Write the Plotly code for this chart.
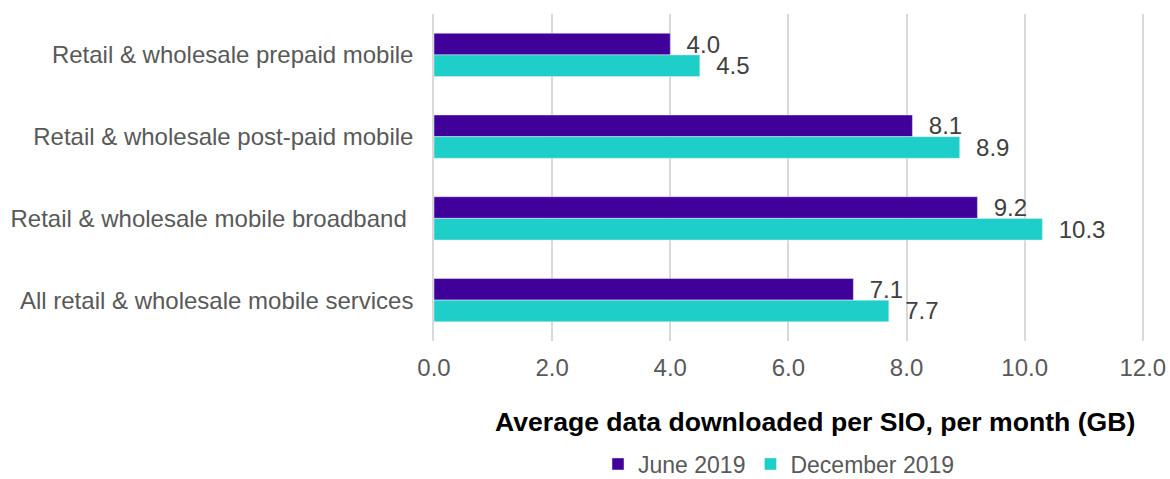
import plotly.graph_objects as go

categories = ["Retail & wholesale prepaid mobile",
              "Retail & wholesale post-paid mobile",
              "Retail & wholesale mobile broadband ",
              "All retail & wholesale mobile services"]
june_2019 = [4.0, 8.1, 9.2, 7.1]
dec_2019 = [4.5, 8.9, 10.3, 7.7]
tick_vals = [0, 2, 4, 6, 8, 10, 12]
tick_text = ["0.0", "2.0", "4.0", "6.0", "8.0", "10.0", "12.0"]

FONT = "Liberation Sans, Arial, sans-serif"
W, H = 1170, 479
PL, PR, PT, PB = 434, 1144, 14, 341        # plot area in window pixels
PW, PH = PR - PL, PB - PT

fig = go.Figure()
for name, vals, col in [("June 2019", june_2019, "#40009A"),
                        ("December 2019", dec_2019, "#1DCFC8")]:
    fig.add_trace(go.Bar(y=categories, x=vals, orientation="h", name=name,
                         marker_color=col,
                         texttemplate="  %{x:.1f}", textposition="outside",
                         constraintext="none",
                         textfont=dict(size=24, color="#404040", family=FONT),
                         cliponaxis=False))

fig.update_layout(
    width=W, height=H,
    margin=dict(l=PL, r=W - PR, t=PT, b=H - PB, autoexpand=False),
    barmode="group", bargap=0.47, bargroupgap=0,
    plot_bgcolor="white", paper_bgcolor="white",
    font=dict(family=FONT, size=24, color="#595959"),
    showlegend=True,
    legend=dict(orientation="h", x=(779 - PL) / PW, xanchor="center",
                y=-(464 - PB) / PH, yanchor="middle",
                font=dict(size=23, color="#595959", family=FONT),
                itemwidth=30, traceorder="normal",
                bgcolor="rgba(0,0,0,0)"),
    annotations=[dict(text="<b>Average data downloaded per SIO, per month (GB)</b>",
                      x=(815 - PL) / PW, xref="paper", xanchor="center",
                      y=-(422 - PB) / PH, yref="paper", yanchor="middle",
                      showarrow=False,
                      font=dict(size=26.6, color="black", family=FONT))],
)
fig.update_xaxes(range=[0, 12.02], tickvals=tick_vals, ticktext=tick_text, automargin=False,
                 showgrid=True, gridcolor="#D9D9D9", gridwidth=1.5,
                 zeroline=False, showline=False, ticks="", ticklabelstandoff=10,
                 ticklabeloverflow="allow",
                 tickfont=dict(size=24, color="#595959", family=FONT))
fig.update_yaxes(autorange="reversed", automargin=False,
                 showline=True, linecolor="#D9D9D9", linewidth=1.5,
                 ticks="", ticklabelstandoff=14,
                 tickfont=dict(size=24, color="#595959", family=FONT))

fig.write_html("out.html", config={"displayModeBar": False},
               post_script="document.body.style.margin='0';"
                           "document.body.style.overflow='hidden';")
